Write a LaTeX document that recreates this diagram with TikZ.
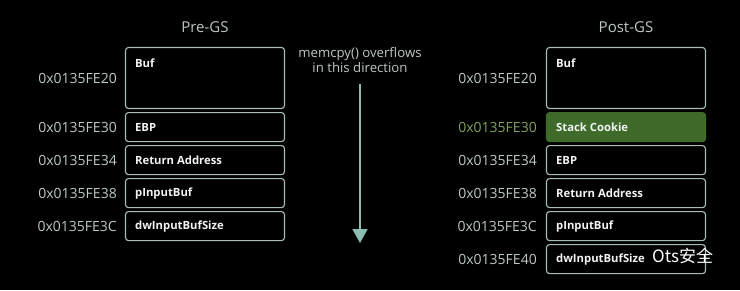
\documentclass[tikz,border=0pt]{standalone}
\usepackage{fontspec}
\setmainfont{Open Sans}
\newfontfamily\cjkfont{Noto Sans CJK SC}
\usetikzlibrary{positioning,arrows.meta}

\definecolor{frame}{HTML}{A6BEB6}
\definecolor{ink}{HTML}{BCC8C4}
\definecolor{cookie}{HTML}{3E6A2A}
\definecolor{cookieink}{HTML}{7FA35F}
\definecolor{flow}{HTML}{8CBDB2}

\begin{document}
\begin{tikzpicture}[x=1pt,y=-1pt,node distance=2.9pt,
  cell/.style={draw=frame,line width=1.1pt,rounded corners=3pt,minimum width=159pt,minimum height=29pt,inner sep=0pt},
  bigcell/.style={cell,minimum height=61pt},
  tag/.style={anchor=west,xshift=10pt,inner sep=0pt,text=white!80!ink,font=\bfseries\fontsize{11.3}{13}\selectfont},
  toptag/.style={tag,anchor=north west,yshift=-12pt},
  addr/.style={inner sep=0pt,text=ink,font=\fontsize{14}{16}\selectfont},
  title/.style={inner sep=0pt,text=ink,font=\fontsize{15}{18}\selectfont}]

\fill[black] (0,0) rectangle (740,290);

% stack before /GS
\node[bigcell,label={[toptag]north west:Buf}] (preBuf) at (205,78) {};
\node[cell,below=3pt of preBuf,label={[tag]west:EBP}] (preEBP) {};
\node[cell,below=of preEBP,label={[tag]west:Return Address}] (preRet) {};
\node[cell,below=of preRet,label={[tag]west:pInputBuf}] (preArg) {};
\node[cell,below=of preArg,label={[tag]west:dwInputBufSize}] (preSize) {};
\node[title,above=14pt of preBuf] (preTitle) {Pre-GS};

\node[addr,left=8pt of preBuf] {0x0135FE20};
\node[addr,left=8pt of preEBP] {0x0135FE30};
\node[addr,left=8pt of preRet] {0x0135FE34};
\node[addr,left=8pt of preArg] {0x0135FE38};
\node[addr,left=8pt of preSize] {0x0135FE3C};

% copy direction
\node[text=ink,align=center,inner sep=0pt,font=\fontsize{13.2}{15}\selectfont] (dir) at (360,60) {memcpy() overflows\\in this direction};
\coordinate (flowend) at (360,243);
\draw[flow,line width=1.4pt,-{Triangle[width=15pt,length=14pt]}] ([yshift=-11pt]dir.south) -- (flowend);

% stack after /GS
\node[bigcell,label={[toptag]north west:Buf}] (postBuf) at (626,78) {};
\node[cell,fill=cookie,draw=cookie,below=3pt of postBuf,label={[tag]west:Stack Cookie}] (postCookie) {};
\node[cell,below=of postCookie,label={[tag]west:EBP}] (postEBP) {};
\node[cell,below=of postEBP,label={[tag]west:Return Address}] (postRet) {};
\node[cell,below=of postRet,label={[tag]west:pInputBuf}] (postArg) {};
\node[cell,below=of postArg,label={[tag]west:dwInputBufSize}] (postSize) {};
\node[title,above=14pt of postBuf] (postTitle) {Post-GS};

\node[addr,left=9pt of postBuf] {0x0135FE20};
\node[addr,left=9pt of postCookie,text=cookieink] {0x0135FE30};
\node[addr,left=9pt of postEBP] {0x0135FE34};
\node[addr,left=9pt of postRet] {0x0135FE38};
\node[addr,left=9pt of postArg] {0x0135FE3C};
\node[addr,left=9pt of postSize] {0x0135FE40};

\node[anchor=west,inner sep=0pt,text=white,font=\cjkfont\fontsize{17}{20}\selectfont] (mark) at (652,256) {Ots安全};
\end{tikzpicture}
\end{document}
